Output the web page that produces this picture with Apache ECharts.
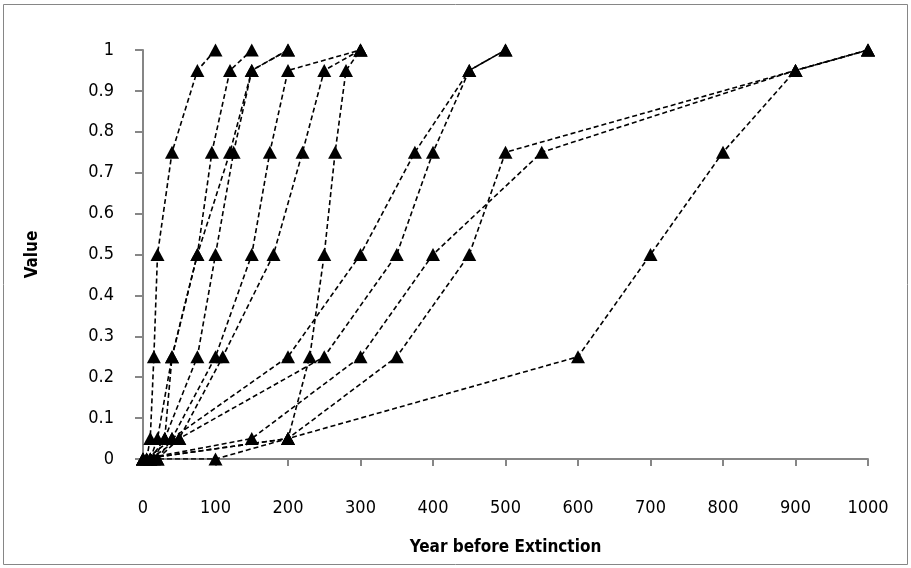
<!DOCTYPE html>
<html>
<head>
<meta charset="utf-8">
<script src="https://cdn.jsdelivr.net/npm/echarts@6/dist/echarts.min.js"></script>
<style>
  html, body { margin: 0; padding: 0; background: #fff; }
  #chart { width: 911px; height: 568px; }
</style>
</head>
<body>
<div id="chart"></div>
<script>
// Cumulative value reached at each stage, shared by most records
const levels = [0, 0.05, 0.25, 0.5, 0.75, 0.95, 1];

// Year before extinction at which each record reaches those levels
const years1 = [5, 10, 15, 20, 40, 75, 100];
const years2 = [10, 20, 40, 75, 95, 120, 150];
const years3 = [15, 30, 40, 75, 120, 150, 200];
const years4 = [10, 30, 75, 100, 125, 150, 200];
const years5 = [20, 40, 100, 150, 175, 200, 300];
const years6 = [20, 50, 110, 180, 220, 250, 300];
const years7 = [0, 200, 230, 250, 265, 280, 300];
const years8 = [5, 40, 200, 300, 375, 450, 500];
const years9 = [10, 50, 250, 350, 400, 450, 500];
const years10 = [0, 150, 300, 400, 550, 900, 1000];
const years11 = [0, 200, 350, 450, 500, 900, 1000];
// This record stays at zero for a century before rising
const years12 = [0, 100, 200, 600, 700, 800, 900, 1000];
const values12 = [0, 0, 0.05, 0.25, 0.5, 0.75, 0.95, 1];

const records = [
  [years1, levels], [years2, levels], [years3, levels], [years4, levels],
  [years5, levels], [years6, levels], [years7, levels], [years8, levels],
  [years9, levels], [years10, levels], [years11, levels], [years12, values12]
];

const axisGrey = '#868686';
const font = '"DejaVu Sans Condensed", "Liberation Sans Narrow", Roboto, sans-serif';

const chart = echarts.init(document.getElementById('chart'), null, { renderer: 'canvas' });

chart.setOption({
  animation: false,
  backgroundColor: '#fff',
  graphic: [{
    type: 'rect',
    shape: { x: 3.5, y: 4.5, width: 904, height: 560 },
    style: { fill: 'none', stroke: axisGrey, lineWidth: 1 },
    silent: true,
    z: -1
  }],
  grid: { left: 143, right: 43, top: 50, bottom: 109, containLabel: false },
  xAxis: {
    type: 'value',
    min: 0, max: 1000, interval: 100,
    name: 'Year before Extinction',
    nameLocation: 'middle',
    nameGap: 80,
    nameTextStyle: { fontFamily: font, fontSize: 17, fontWeight: 'bold', color: '#000' },
    axisLine: { show: true, onZero: false, lineStyle: { color: axisGrey, width: 2 } },
    axisTick: { show: true, inside: false, length: 7, lineStyle: { color: axisGrey, width: 2 } },
    axisLabel: { margin: 40, fontFamily: font, fontSize: 18, color: '#000',
      formatter: v => String(v) },
    splitLine: { show: false }
  },
  yAxis: {
    type: 'value',
    min: 0, max: 1, interval: 0.1,
    name: 'Value',
    nameLocation: 'middle',
    nameGap: 102,
    nameTextStyle: { fontFamily: font, fontSize: 17, fontWeight: 'bold', color: '#000' },
    axisLine: { show: true, lineStyle: { color: axisGrey, width: 2 } },
    axisTick: { show: true, inside: false, length: 8, lineStyle: { color: axisGrey, width: 2 } },
    axisLabel: { margin: 29, fontFamily: font, fontSize: 18, color: '#000',
      formatter: v => String(Math.round(v * 10) / 10) },
    splitLine: { show: false }
  },
  series: records.map(([xs, ys], i) => ({
    type: 'line',
    name: 'Record ' + (i + 1),
    data: xs.map((x, k) => [x, ys[k]]),
    symbol: 'triangle',
    symbolSize: [14, 13],
    showSymbol: true,
    itemStyle: { color: '#000' },
    lineStyle: { color: '#000', width: 1.6, type: [5, 3] },
    emphasis: { disabled: true }
  }))
});
</script>
</body>
</html>
